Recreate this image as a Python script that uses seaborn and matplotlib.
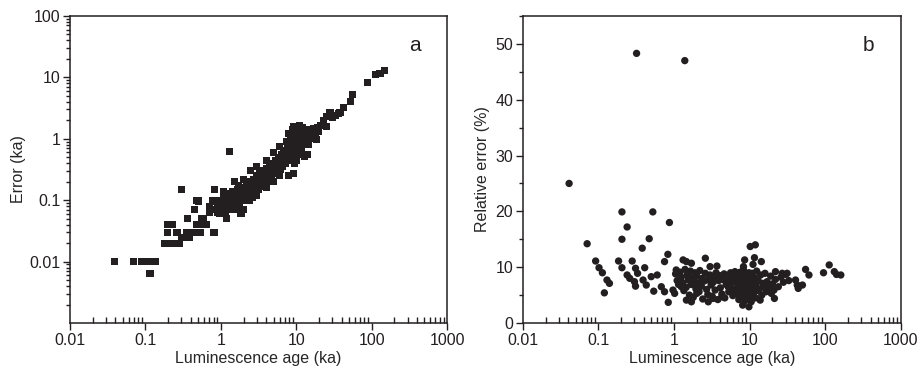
import matplotlib
matplotlib.use("Agg")
import matplotlib.pyplot as plt
import matplotlib.ticker as mticker
import seaborn as sns
import pandas as pd

# ---------- panel a: age vs absolute error (ka) ----------
age_a = [
    0.039, 0.07, 0.088, 0.1, 0.116, 0.137, 0.115,
    0.18, 0.21, 0.245, 0.285, 0.195, 0.195, 0.23, 0.27, 0.30, 0.33, 0.35, 0.38, 0.43,
    0.36, 0.45, 0.48, 0.30, 0.82, 0.48, 0.58, 0.64, 0.81, 0.55, 0.71, 0.79, 1.32,
    0.50, 0.78, 0.58, 0.71, 0.91, 0.53, 0.83, 0.26, 0.42,
    0.85, 0.9, 0.95, 1.0, 1.0, 1.05, 1.1, 1.1, 1.15, 1.2, 1.25, 1.3, 1.3, 1.35, 1.4,
    1.45, 1.5, 1.5, 1.55, 1.6, 1.65, 1.7, 1.75, 1.8, 1.85, 1.9, 1.95, 2.0,
    2.1, 2.15, 2.2, 2.3, 2.35, 2.4, 2.5, 2.6, 2.7, 2.8, 2.9, 3.0, 3.1, 3.2, 3.3, 3.4,
    3.5, 3.6, 3.8, 3.9,
    4.0, 4.1, 4.3, 4.4, 4.6, 4.7, 4.9, 5.0, 5.2, 5.3, 5.5, 5.6, 5.8, 6.0, 6.1, 6.3,
    6.5, 6.6, 6.8, 7.0,
    7.1, 7.2, 7.4, 7.6, 7.7, 7.9, 8.0, 8.2, 8.3, 8.5, 8.6, 8.8, 8.9, 9.1, 9.2, 9.4,
    9.5, 9.7, 9.9, 10.0, 10.2, 10.4, 10.6, 10.8, 11.0, 11.3, 11.6, 11.8, 12.0,
    9.1, 11.2, 7.8, 9.1, 13.7, 13.0, 18.6,
    12.5, 13.0, 13.5, 14.0, 14.5, 15.0, 16.0, 17.0, 18.0, 19.0, 20.0, 21.3, 22.8,
    23.0, 25.0, 25.5, 27.6, 28.0, 30.0, 33.0, 36.0, 38.0, 42.0, 52.0, 55.0,
    89.0, 111.0, 129.0, 150.0,
    # extra spread around the main band
    1.5, 2.0, 2.5, 3.0, 4.0, 5.0, 6.0, 8.0, 9.0, 10.0, 12.0,
    1.2, 2.0, 3.0, 4.0, 5.0, 6.0, 10.0, 14.0,
    1.1, 1.7, 2.6, 3.6, 4.5, 5.8, 6.9, 7.5, 8.4, 9.6, 10.9, 15.5,
]
err_a = [
    0.01, 0.01, 0.01, 0.01, 0.01, 0.01, 0.0064,
    0.02, 0.02, 0.02, 0.02, 0.03, 0.04, 0.04, 0.03, 0.025, 0.025, 0.03, 0.025, 0.03,
    0.05, 0.07, 0.1, 0.15, 0.15, 0.04, 0.04, 0.04, 0.03, 0.05, 0.062, 0.1, 0.63,
    0.097, 0.097, 0.051, 0.078, 0.064, 0.03, 0.03, 0.03, 0.03,
    0.07, 0.09, 0.06, 0.08, 0.1, 0.07, 0.12, 0.09, 0.06, 0.1, 0.08, 0.13, 0.07, 0.11, 0.09,
    0.14, 0.08, 0.12, 0.1, 0.07, 0.15, 0.11, 0.09, 0.13, 0.06, 0.12, 0.16, 0.1,
    0.14, 0.11, 0.2, 0.13, 0.17, 0.1, 0.19, 0.14, 0.22, 0.16, 0.12, 0.25, 0.19, 0.15, 0.28, 0.22,
    0.17, 0.3, 0.2, 0.26,
    0.33, 0.24, 0.2, 0.36, 0.3, 0.23, 0.4, 0.33, 0.27, 0.45, 0.36, 0.29, 0.5, 0.4, 0.32, 0.55,
    0.45, 0.36, 0.6, 0.48,
    0.4, 0.65, 0.53, 0.44, 0.72, 0.58, 0.47, 0.8, 0.64, 0.52, 0.9, 0.7, 0.56, 1.0, 0.75, 0.6,
    0.48, 0.85, 0.65, 1.1, 0.78, 0.55, 0.95, 0.7, 1.25, 0.85, 0.62, 1.05, 0.8,
    1.6, 1.65, 0.25, 0.27, 0.97, 0.52, 0.97,
    1.2, 0.9, 1.4, 1.05, 0.8, 1.3, 1.1, 1.45, 1.2, 1.5, 1.3, 1.65, 2.0,
    1.75, 1.6, 2.3, 2.5, 2.65, 2.2, 2.4, 2.6, 2.65, 3.2, 4.0, 5.2,
    8.2, 11.0, 11.5, 12.8,
    0.2, 0.22, 0.3, 0.35, 0.45, 0.6, 0.75, 1.2, 1.4, 1.5, 1.5,
    0.05, 0.07, 0.12, 0.16, 0.2, 0.25, 0.45, 0.55,
    0.14, 0.17, 0.11, 0.2, 0.26, 0.28, 0.5, 0.9, 1.1, 0.4, 0.6, 1.0,
]

# ---------- panel b: age vs relative error (%) ----------
age_b = [
    0.041, 0.32, 1.39, 0.071, 0.205, 0.525, 0.24, 0.205, 0.47, 0.38, 0.87, 0.83,
    0.092, 0.102, 0.113, 0.13, 0.14, 0.12, 0.185, 0.205, 0.28, 0.31, 0.33, 0.24,
    0.26, 0.30, 0.31, 0.41, 0.39, 0.43, 0.50, 0.54, 0.60, 0.75, 0.68, 0.75, 0.84,
    1.02, 0.97, 1.07, 1.32, 1.46, 1.7, 1.54, 1.25, 1.46, 1.7, 1.89, 2.0, 2.6, 3.0,
    3.7, 2.84, 2.84, 3.3, 4.3, 5.2, 6.4, 8.6, 8.3, 11.1, 8.1, 9.8, 10.2, 11.9, 11.6,
    14.3, 13.8, 19.4, 21.3, 22.0, 27.0, 31.3, 40.5, 42.7, 44.0, 50.0, 55.0, 61.0,
    95.0, 113.0, 132.0, 141.0, 161.0,
    1.05, 1.1, 1.15, 1.2, 1.25, 1.3, 1.35, 1.4, 1.45, 1.5, 1.55, 1.6, 1.65, 1.7,
    1.75, 1.8, 1.85, 1.9, 1.95, 2.0,
    2.1, 2.15, 2.2, 2.3, 2.35, 2.4, 2.5, 2.6, 2.7, 2.8, 2.9, 3.0, 3.1, 3.2, 3.3,
    3.4, 3.5, 3.6, 3.8, 3.9,
    4.0, 4.1, 4.3, 4.4, 4.6, 4.7, 4.9, 5.0, 5.2, 5.3, 5.5, 5.6, 5.8, 6.0, 6.1,
    6.3, 6.5, 6.6, 6.8, 7.0,
    7.1, 7.2, 7.3, 7.4, 7.5, 7.6, 7.7, 7.8, 7.9, 8.0, 8.1, 8.2, 8.3, 8.4, 8.5,
    8.6, 8.7, 8.8, 8.9, 9.0, 9.1, 9.2, 9.3, 9.4, 9.5, 9.6, 9.7, 9.8, 9.9, 10.0,
    10.1, 10.2, 10.3, 10.4, 10.5, 10.6, 10.7, 10.8, 10.9, 11.0, 11.2, 11.4, 11.6,
    11.8, 12.0, 12.2, 12.4, 12.6,
    13.0, 13.5, 14.0, 14.5, 15.0, 15.5, 16.0, 16.5, 17.0, 18.0, 19.0, 20.0, 21.0,
    22.0, 24.0, 26.0, 28.0, 30.0, 33.0,
]
rel_b = [
    25.0, 48.3, 47.0, 14.2, 19.9, 19.9, 17.2, 15.0, 15.1, 13.4, 18.0, 12.3,
    11.1, 9.9, 9.0, 7.7, 7.1, 5.4, 11.1, 9.9, 11.1, 9.8, 8.9, 8.6,
    8.0, 7.4, 6.6, 9.9, 7.7, 6.8, 8.3, 5.7, 8.6, 11.0, 6.5, 5.6, 3.7,
    5.3, 5.9, 9.5, 11.3, 11.0, 10.7, 8.3, 6.5, 4.1, 3.8, 6.8, 5.3, 11.6, 10.1,
    10.2, 7.7, 3.8, 4.4, 4.7, 6.5, 9.2, 11.3, 10.1, 10.5, 3.2, 2.9, 13.7, 14.0, 11.7,
    11.0, 4.1, 5.3, 4.4, 9.2, 8.9, 8.9, 7.7, 6.8, 6.2, 6.8, 9.6, 8.6,
    9.0, 10.4, 9.2, 8.7, 8.6,
    8.8, 7.6, 6.9, 9.1, 8.2, 7.2, 5.8, 9.6, 6.4, 8.7, 7.7, 5.0, 9.3, 6.9,
    8.1, 4.6, 7.4, 9.0, 6.1, 8.4,
    7.2, 5.6, 9.4, 6.6, 8.0, 4.3, 7.5, 8.9, 6.0, 5.1, 7.9, 8.6, 6.8, 4.8, 7.3,
    8.3, 5.9, 9.0, 4.2, 7.6,
    8.5, 6.3, 5.2, 7.8, 8.8, 4.5, 6.9, 7.5, 8.3, 5.6, 6.4, 9.0, 7.2, 4.9, 8.0,
    6.0, 7.4, 8.7, 5.3, 6.7,
    8.4, 4.2, 7.0, 5.8, 9.1, 6.3, 7.7, 5.0, 8.0, 6.6, 4.6, 7.3, 9.5, 5.5, 6.9,
    8.2, 4.0, 7.6, 6.0, 5.2, 8.8, 6.4, 7.1, 4.8, 7.9, 5.7, 6.8, 9.0, 4.4, 7.4,
    6.1, 5.3, 8.4, 6.7, 3.8, 7.8, 5.9, 8.9, 6.4, 4.9, 7.2, 5.5, 8.1,
    6.3, 4.5, 7.0, 9.3, 5.8,
    7.6, 6.1, 8.6, 5.0, 7.1, 6.6, 8.9, 5.6, 7.4, 6.2, 8.4, 7.0, 5.9,
    7.8, 6.5, 8.2, 7.3, 8.7, 7.6,
]

df_a = pd.DataFrame({"age": age_a, "err": err_a})
df_b = pd.DataFrame({"age": age_b, "rel": rel_b})

sns.set_style("ticks")
plt.rcParams["font.family"] = ["Liberation Sans", "DejaVu Sans"]
plt.rcParams["font.size"] = 11.5

ink = "#231f20"
fig = plt.figure(figsize=(9.22, 3.8), dpi=100)
ax_a = fig.add_axes([0.0759, 0.15, 0.409, 0.808])
ax_b = fig.add_axes([0.567, 0.15, 0.410, 0.808])

sns.scatterplot(data=df_a, x="age", y="err", ax=ax_a, marker="s", s=26,
                color=ink, edgecolor="none", linewidth=0)
sns.scatterplot(data=df_b, x="age", y="rel", ax=ax_b, marker="o", s=28,
                color=ink, edgecolor="none", linewidth=0)

fmt = mticker.FuncFormatter(lambda v, p: f"{v:g}")

for ax in (ax_a, ax_b):
    ax.set_xscale("log")
    ax.set_xlim(0.01, 1000)
    ax.set_xticks([0.01, 0.1, 1, 10, 100, 1000])
    ax.xaxis.set_major_formatter(fmt)
    ax.xaxis.set_minor_locator(mticker.LogLocator(base=10, subs=range(2, 10), numticks=20))
    ax.xaxis.set_minor_formatter(mticker.NullFormatter())
    ax.set_xlabel("Luminescence age (ka)", fontsize=11.5, labelpad=2)
    ax.tick_params(axis="x", which="major", direction="out", length=5, width=1, colors=ink, labelsize=11.5, pad=2)
    ax.tick_params(axis="x", which="minor", direction="in", length=4, width=1, colors=ink)
    ax.tick_params(axis="y", which="major", direction="out", length=5, width=1, colors=ink, labelsize=11.5, pad=2)
    ax.tick_params(axis="y", which="minor", direction="out", length=3, width=1, colors=ink)
    for sp in ax.spines.values():
        sp.set_visible(True)
        sp.set_color(ink)
        sp.set_linewidth(1.1)

ax_a.set_yscale("log")
ax_a.set_ylim(0.001, 100)
ax_a.set_yticks([0.01, 0.1, 1, 10, 100])
ax_a.yaxis.set_major_formatter(fmt)
ax_a.yaxis.set_minor_locator(mticker.LogLocator(base=10, subs=range(2, 10), numticks=20))
ax_a.yaxis.set_minor_formatter(mticker.NullFormatter())
ax_a.set_ylabel("Error (ka)", fontsize=11.5, labelpad=2)
ax_a.text(0.915, 0.905, "a", transform=ax_a.transAxes, fontsize=15, color=ink, ha="center", va="center")

ax_b.set_ylim(0, 55)
ax_b.set_yticks([0, 10, 20, 30, 40, 50])
ax_b.yaxis.set_minor_locator(mticker.MultipleLocator(5))
ax_b.set_ylabel("Relative error (%)", fontsize=11.5, labelpad=4)
ax_b.text(0.915, 0.905, "b", transform=ax_b.transAxes, fontsize=15, color=ink, ha="center", va="center")

fig.savefig("out.png", dpi=100)
plt.close(fig)
